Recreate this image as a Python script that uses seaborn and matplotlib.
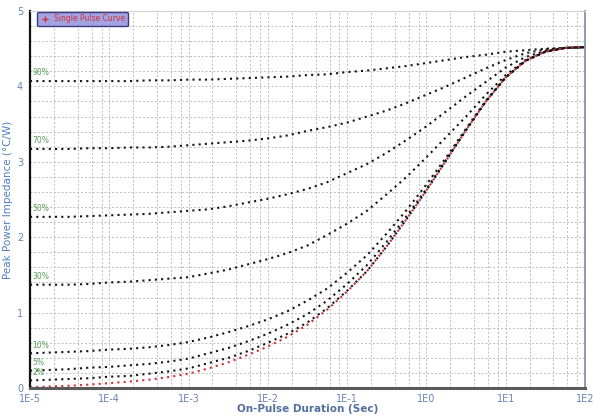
import matplotlib
matplotlib.use("Agg")
import matplotlib.pyplot as plt
from matplotlib.lines import Line2D
from matplotlib.ticker import MultipleLocator, LogLocator, NullFormatter
import seaborn as sns

# pulse durations (s), quarter-decade steps from 1E-5 to 1E2
durations = [1e-5, 1.78e-5, 3.16e-5, 5.62e-5,
             1e-4, 1.78e-4, 3.16e-4, 5.62e-4,
             1e-3, 1.78e-3, 3.16e-3, 5.62e-3,
             1e-2, 1.78e-2, 3.16e-2, 5.62e-2,
             1e-1, 0.178, 0.316, 0.562,
             1.0, 1.78, 3.16, 5.62,
             10.0, 17.8, 31.6, 56.2, 100.0]

# peak power impedance (degC/W)
zth_90 = [4.07, 4.07, 4.07, 4.07, 4.07, 4.07, 4.08, 4.08, 4.09, 4.09, 4.10, 4.11, 4.12, 4.13, 4.15,
          4.16, 4.19, 4.21, 4.24, 4.27, 4.31, 4.35, 4.39, 4.42, 4.46, 4.48, 4.50, 4.51, 4.52]
zth_70 = [3.17, 3.17, 3.17, 3.18, 3.18, 3.19, 3.19, 3.20, 3.22, 3.24, 3.26, 3.28, 3.31, 3.35, 3.41,
          3.46, 3.52, 3.60, 3.68, 3.78, 3.89, 4.00, 4.12, 4.24, 4.35, 4.44, 4.49, 4.51, 4.52]
zth_50 = [2.27, 2.27, 2.27, 2.28, 2.29, 2.30, 2.31, 2.33, 2.35, 2.37, 2.41, 2.46, 2.51, 2.57, 2.64,
          2.73, 2.85, 2.97, 3.12, 3.29, 3.47, 3.67, 3.87, 4.06, 4.25, 4.39, 4.47, 4.51, 4.52]
zth_30 = [1.37, 1.37, 1.37, 1.38, 1.40, 1.41, 1.43, 1.45, 1.47, 1.52, 1.57, 1.64, 1.71, 1.79, 1.89,
          2.03, 2.18, 2.35, 2.57, 2.80, 3.06, 3.33, 3.60, 3.89, 4.15, 4.35, 4.46, 4.51, 4.52]
zth_10 = [0.46, 0.47, 0.48, 0.49, 0.51, 0.52, 0.54, 0.57, 0.61, 0.67, 0.74, 0.82, 0.91, 1.02, 1.16,
          1.32, 1.53, 1.76, 2.05, 2.36, 2.70, 3.06, 3.44, 3.81, 4.12, 4.34, 4.46, 4.51, 4.52]
zth_5 = [0.23, 0.24, 0.25, 0.27, 0.28, 0.30, 0.32, 0.35, 0.39, 0.46, 0.53, 0.62, 0.72, 0.84, 0.98,
         1.16, 1.38, 1.63, 1.94, 2.28, 2.64, 3.03, 3.42, 3.80, 4.12, 4.34, 4.46, 4.51, 4.52]
zth_2 = [0.10, 0.11, 0.12, 0.13, 0.15, 0.16, 0.19, 0.22, 0.26, 0.33, 0.40, 0.49, 0.60, 0.72, 0.87,
         1.06, 1.29, 1.55, 1.88, 2.24, 2.62, 3.02, 3.42, 3.80, 4.12, 4.34, 4.46, 4.51, 4.52]
zth_single = [0.01, 0.02, 0.03, 0.045, 0.065, 0.085, 0.11, 0.145, 0.19, 0.26, 0.34, 0.44, 0.55, 0.68, 0.84,
              1.04, 1.28, 1.55, 1.88, 2.24, 2.62, 3.02, 3.42, 3.80, 4.12, 4.34, 4.46, 4.51, 4.52]

duty_labels = ["90%", "70%", "50%", "30%", "10%", "5%", "2%"]
duty_curves = [zth_90, zth_70, zth_50, zth_30, zth_10, zth_5, zth_2]

xticks = [1e-5, 1e-4, 1e-3, 1e-2, 1e-1, 1e0, 1e1, 1e2]
xtick_labels = ["1E-5", "1E-4", "1E-3", "1E-2", "1E-1", "1E0", "1E1", "1E2"]
yticks = [0, 1, 2, 3, 4, 5]

sns.set_style("white")
plt.rcParams["font.family"] = ["DejaVu Sans"]

fig = plt.figure(figsize=(5.93, 4.16), dpi=100)
ax = fig.add_axes([0.0506, 0.0673, 0.9359, 0.9063])

dot = (0, (1, 2.0))
for lab, vals in zip(duty_labels, duty_curves):
    sns.lineplot(x=durations, y=vals, ax=ax, color="#151515", linestyle=dot, lw=1.5)
    ax.text(1.06e-5, vals[0] + 0.05, lab, color="#5a9e5a", fontsize=5.5, va="bottom", ha="left")
sns.lineplot(x=durations, y=zth_single, ax=ax, color="#d0303a", linestyle=dot, lw=1.5)

ax.set_xscale("log")
ax.set_xlim(1e-5, 1e2)
ax.set_ylim(0, 5)

ax.set_xticks(xticks)
ax.set_xticklabels(xtick_labels)
ax.xaxis.set_minor_locator(LogLocator(base=10, subs=(2, 4, 6, 8), numticks=20))
ax.xaxis.set_minor_formatter(NullFormatter())
ax.set_yticks(yticks)
ax.yaxis.set_minor_locator(MultipleLocator(0.2))

ax.grid(which="both", color="#bcbcbc", linestyle=(0, (2, 2)), linewidth=0.7)
ax.tick_params(axis="both", which="major", direction="out", length=3, width=0.8,
               labelsize=7, labelcolor="#6a84b4", color="#555555", pad=2)
ax.tick_params(axis="both", which="minor", length=0)
ax.tick_params(axis="x", length=2, pad=2.5)

ax.spines["left"].set_color("#111111")
ax.spines["left"].set_linewidth(1.6)
ax.spines["bottom"].set_color("#5a5a5a")
ax.spines["bottom"].set_linewidth(2.2)
ax.spines["right"].set_color("#8394ad")
ax.spines["right"].set_linewidth(1.3)
ax.spines["top"].set_color("#d0d0d0")
ax.spines["top"].set_linewidth(0.8)

ax.set_xlabel("On-Pulse Duration (Sec)", fontsize=7.5, fontweight="bold", color="#53709f", labelpad=0)
ax.set_ylabel("Peak Power Impedance (\u00b0C/W)", fontsize=7.5, color="#4f7fc0", labelpad=3)

handle = Line2D([], [], marker="+", color="#d0303a", linestyle="none", markersize=4)
leg = ax.legend([handle], ["Single Pulse Curve"], loc="upper left", bbox_to_anchor=(0.012, 1.0),
                fontsize=5.5, labelcolor="#d0303a", fancybox=True, framealpha=1,
                facecolor="#a3a3e3", edgecolor="#3a3a7e", borderpad=0.35, handlelength=1.2,
                handletextpad=0.6, borderaxespad=0.1)
leg.get_frame().set_linewidth(1.0)

fig.savefig("out.png", dpi=100)
